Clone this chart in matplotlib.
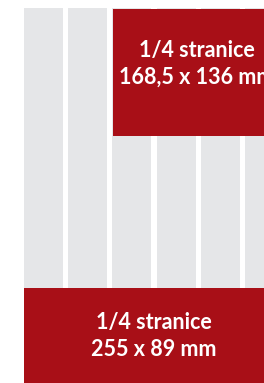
import matplotlib
matplotlib.use("Agg")
import matplotlib.pyplot as plt
from matplotlib.patches import Rectangle

# Data
n_columns = 6
ad_labels = ["1/4 stranice\n168,5 x 136 mm", "1/4 stranice\n255 x 89 mm"]

RED = "#A80F17"
GRAY = "#E5E6E8"

fig = plt.figure(figsize=(2.64, 3.83), dpi=100)
ax = fig.add_axes([0, 0, 1, 1])
ax.set_xlim(0, 264)
ax.set_ylim(383, 0)
ax.axis("off")

col_start, col_step, col_w = 24, 44.2, 39
for i in range(n_columns):
    ax.add_patch(Rectangle((col_start + i * col_step, 8), col_w, 280, color=GRAY, lw=0))

# top-right ad
ax.add_patch(Rectangle((113, 9), 160, 127, color=RED, lw=0))
# bottom ad
ax.add_patch(Rectangle((24, 288), 250, 100, color=RED, lw=0))

font = dict(family="Lato", weight="bold", color="white", ha="center", va="center",
            fontsize=15.5)
for (x, y), lab in zip([(197, 63.5), (153.5, 335.5)], ad_labels):
    l1, l2 = lab.split("\n")
    ax.text(x, y - 13.5, l1, **font)
    ax.text(x, y + 13.5, l2, **font)

fig.savefig("out.png", dpi=100)
